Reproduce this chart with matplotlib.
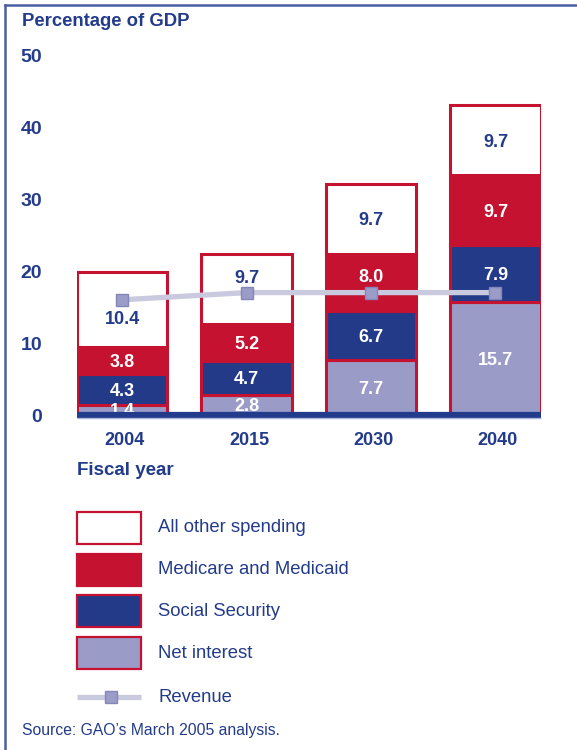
import matplotlib
matplotlib.use("Agg")
import matplotlib.pyplot as plt
from matplotlib.patches import Rectangle
from matplotlib.lines import Line2D
import numpy as np

plt.rcParams['font.family'] = ['Liberation Sans', 'DejaVu Sans']

# ---- data ----
years = ["2004", "2015", "2030", "2040"]
net_interest = [1.4, 2.8, 7.7, 15.7]
social_security = [4.3, 4.7, 6.7, 7.9]
medicare_medicaid = [3.8, 5.2, 8.0, 9.7]
all_other = [10.4, 9.7, 9.7, 9.7]
revenue = [16.0, 17.0, 17.0, 17.0]
y_ticks = [0, 10, 20, 30, 40, 50]

series_names = ["Net interest", "Social Security", "Medicare and Medicaid", "All other spending"]

# ---- style ----
NAVY = "#233b8b"
RED = "#c41230"
BLUE = "#223a88"
LAV = "#9a9cc7"
REV_LINE = "#c9c9df"
REV_MARK = "#9b9cc8"
FRAME = "#4b5fa3"

fills = [LAV, BLUE, RED, "white"]
label_colors = ["white", "white", "white", NAVY]
# vertical nudges (in % of GDP) keeping labels clear of the revenue line
label_nudge = {(0, 3): -1.2, (1, 3): 1.65, (2, 2): 1.0}

W, H = 577, 750
fig = plt.figure(figsize=(W / 100, H / 100), dpi=100)


def fx(px):
    return px / W


def fy(py):
    return 1 - py / H


ax_left, ax_right, ax_top, ax_bot = 77, 540.5, 55, 415
ax = fig.add_axes([fx(ax_left), fy(ax_bot), fx(ax_right - ax_left), (ax_bot - ax_top) / H])
ax.set_xlim(-0.362, 3.362)
ax.set_ylim(0, 50)
for s in ax.spines.values():
    s.set_visible(False)
ax.set_xticks([])
ax.set_yticks(y_ticks)
ax.set_yticklabels([str(t) for t in y_ticks], fontsize=14, fontweight="bold", color=NAVY)
ax.tick_params(axis="y", length=0, pad=25)

x = np.arange(len(years))
bar_w = 0.724
stacks = [net_interest, social_security, medicare_medicaid, all_other]
bottom = np.zeros(len(years))
for si, vals in enumerate(stacks):
    vals = np.array(vals)
    ax.bar(x, vals, bar_w, bottom=bottom, color=fills[si], edgecolor=RED,
           linewidth=2.2, zorder=2)
    for i, v in enumerate(vals):
        yc = bottom[i] + v / 2 + label_nudge.get((i, si), 0)
        ax.text(x[i], yc, f"{v:.1f}", ha="center", va="center_baseline",
                fontsize=13, fontweight="bold", color=label_colors[si], zorder=4)
    bottom += vals

# revenue line
ax.plot(x, revenue, color=REV_LINE, lw=3.8, zorder=3, solid_capstyle="butt")
ax.plot(x, revenue, ls="none", marker="s", ms=8.5, mfc=REV_MARK, mec="#8486ba",
        mew=1, zorder=5)

# baseline
ax.plot([-0.362, 3.362], [0, 0], color=NAVY, lw=4.5, zorder=6, clip_on=False,
        solid_capstyle="butt")
ax.plot([-0.362, 3.362], [-0.38, -0.38], color="#aab4d8", lw=1, zorder=6,
        clip_on=False, solid_capstyle="butt")

# year labels
for i, yr in enumerate(years):
    ax.text(x[i] + 0.02, -3.5, yr, ha="center", va="center", fontsize=13,
            fontweight="bold", color=NAVY)

# titles
fig.text(fx(22), fy(22), "Percentage of GDP", ha="left", va="center",
         fontsize=13.3, fontweight="bold", color=NAVY)
fig.text(fx(77), fy(470), "Fiscal year", ha="left", va="center",
         fontsize=13.5, fontweight="bold", color=NAVY)

# legend
leg_x, leg_w, leg_h = 77, 64, 32
leg_rows = [("All other spending", "white", 528),
            ("Medicare and Medicaid", RED, 570),
            ("Social Security", BLUE, 611),
            ("Net interest", LAV, 653)]
for name, fc, yc in leg_rows:
    fig.add_artist(Rectangle((fx(leg_x), fy(yc + leg_h / 2)), fx(leg_w), leg_h / H,
                             transform=fig.transFigure, facecolor=fc, edgecolor=RED,
                             linewidth=1.6))
    fig.text(fx(158), fy(yc), name, ha="left", va="center", fontsize=13.3, color=NAVY)

fig.add_artist(Line2D([fx(77), fx(141)], [fy(697), fy(697)], transform=fig.transFigure,
                      color=REV_LINE, lw=3.8, solid_capstyle="butt"))
fig.add_artist(Line2D([fx(111)], [fy(697)], transform=fig.transFigure, ls="none",
                      marker="s", ms=8.5, mfc=REV_MARK, mec="#8486ba", mew=1))
fig.text(fx(158), fy(697), "Revenue", ha="left", va="center", fontsize=13.3, color=NAVY)

fig.text(fx(22), fy(731), "Source: GAO\u2019s March 2005 analysis.", ha="left",
         va="center", fontsize=11.3, color=NAVY)

# frame
fig.add_artist(Line2D([fx(5), 1], [fy(5), fy(5)], transform=fig.transFigure,
                      color=FRAME, lw=1.8))
fig.add_artist(Line2D([fx(5), fx(5)], [fy(5), 0], transform=fig.transFigure,
                      color=FRAME, lw=1.8))

fig.savefig("out.png", dpi=100)
